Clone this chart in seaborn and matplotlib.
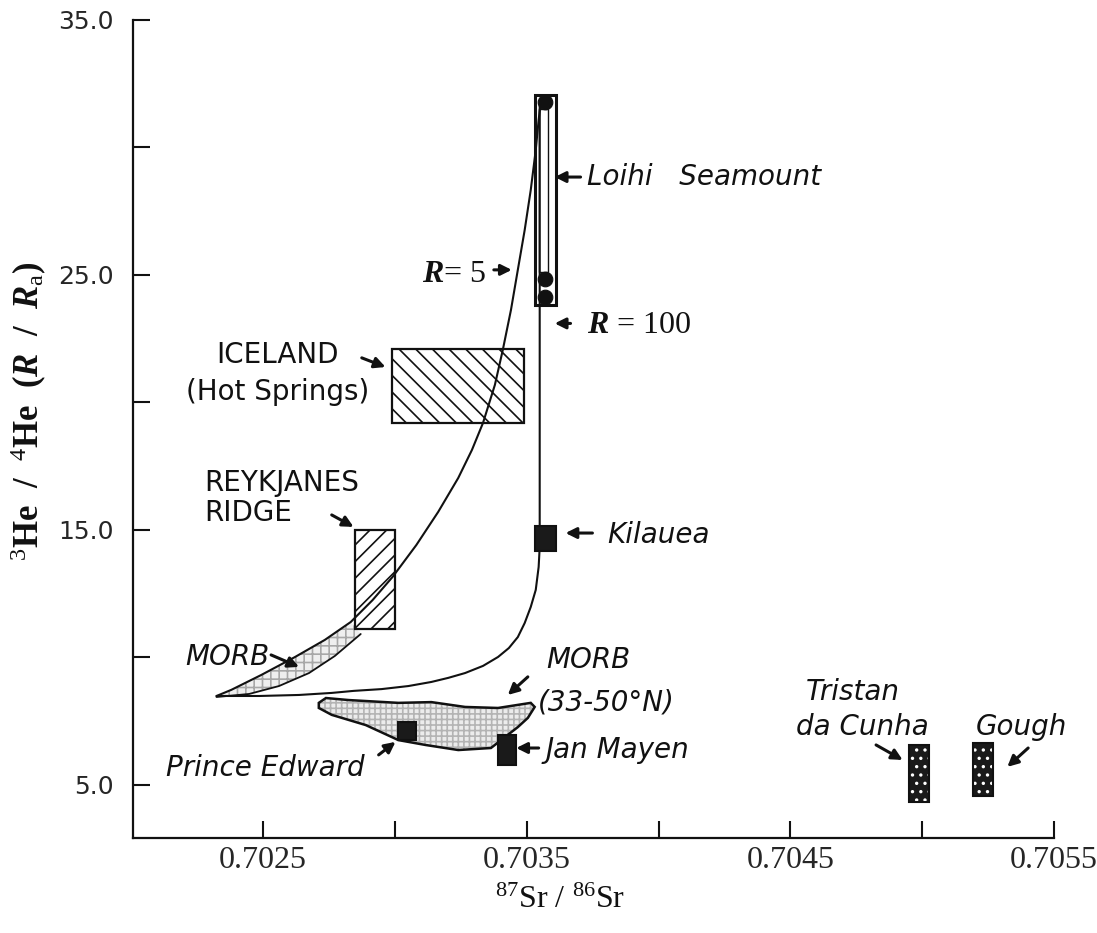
import matplotlib
matplotlib.use("Agg")
import matplotlib.pyplot as plt
from matplotlib.patches import Rectangle, Polygon
import numpy as np
import pandas as pd
import seaborn as sns

# ---- mixing curves (87Sr/86Sr vs 3He/4He in R/Ra) ----
r5_sr = [0.702323, 0.702379, 0.702492, 0.702621, 0.702734, 0.702832, 0.702915,
         0.702991, 0.703081, 0.703164, 0.703240, 0.703292, 0.703334, 0.703379,
         0.703409, 0.703440, 0.703466, 0.703492, 0.703515, 0.703534, 0.703545,
         0.703553]
r5_he = [8.49, 8.73, 9.31, 10.02, 10.69, 11.39, 12.25, 13.16, 14.41, 15.71,
         17.04, 18.14, 19.20, 20.69, 22.06, 23.63, 25.20, 26.76, 28.33, 29.90,
         31.08, 31.78]

r100_sr = [0.703549, 0.703549, 0.703549, 0.703545, 0.703534, 0.703515, 0.703492,
           0.703466, 0.703432, 0.703391, 0.703334, 0.703266, 0.703202, 0.703138,
           0.703051, 0.702949, 0.702843, 0.702760, 0.702636, 0.702485, 0.702323]
r100_he = [31.78, 23.82, 14.33, 13.55, 12.65, 11.98, 11.35, 10.80, 10.37, 10.02,
           9.67, 9.39, 9.20, 9.04, 8.88, 8.76, 8.69, 8.61, 8.53, 8.49, 8.49]

# lower edge of the MORB mixing band
morb_band_sr = [0.702323, 0.702447, 0.702560, 0.702674, 0.702772, 0.702870]
morb_band_he = [8.45, 8.57, 8.88, 9.39, 10.06, 10.92]

# MORB (33-50 N) field outline
morb_n_sr = [0.702711, 0.702738, 0.702825, 0.703013, 0.703138, 0.703266, 0.703391,
             0.703515, 0.703530, 0.703504, 0.703466, 0.703364, 0.703240, 0.703115,
             0.703013, 0.702889, 0.702760, 0.702711]
morb_n_he = [8.22, 8.41, 8.33, 8.22, 8.25, 8.06, 8.02, 8.22, 8.06, 7.63, 7.27,
             6.45, 6.37, 6.57, 6.76, 7.35, 7.75, 8.02]

# fields: [Sr min, Sr max, He min, He max]
iceland_box = [0.70299, 0.70349, 19.2, 22.1]
reykjanes_box = [0.70285, 0.70300, 11.1, 15.0]
loihi_box = [0.70353, 0.70361, 23.82, 32.06]
loihi_inner_box = [0.703545, 0.70358, 25.1, 31.5]
kilauea_box = [0.70353, 0.70361, 14.17, 15.16]
prince_edward_box = [0.70301, 0.70308, 6.76, 7.47]
jan_mayen_box = [0.70339, 0.70346, 5.78, 6.96]
tristan_box = [0.704949, 0.705025, 4.33, 6.57]
gough_box = [0.705194, 0.705270, 4.57, 6.65]

# Loihi samples
loihi_sr = [0.70357, 0.70357, 0.70357]
loihi_he = [31.8, 24.85, 24.15]

# axes
x_ticks = [0.7025, 0.7030, 0.7035, 0.7040, 0.7045, 0.7050, 0.7055]
x_tick_labels = ["0.7025", "", "0.7035", "", "0.7045", "", "0.7055"]
y_ticks = [5, 10, 15, 20, 25, 30, 35]
y_tick_labels = ["5.0", "", "15.0", "", "25.0", "", "35.0"]

sns.set_style("white")
plt.rcParams["hatch.linewidth"] = 1.2
plt.rcParams["mathtext.fontset"] = "custom"
plt.rcParams["mathtext.rm"] = "Liberation Serif"
plt.rcParams["mathtext.it"] = "Liberation Serif:italic:bold"
plt.rcParams["mathtext.bf"] = "Liberation Serif:bold"
plt.rcParams["font.family"] = ["DejaVu Sans"]

fig = plt.figure(figsize=(10.97, 9.33), dpi=100)
ax = fig.add_axes([0.1212, 0.1018, 0.8396, 0.8768])

LW = 1.5
INK = "#111111"


def box(b, **kw):
    return Rectangle((b[0], b[2]), b[1] - b[0], b[3] - b[2], **kw)


# stippled fields
band_x = r5_sr[:6] + morb_band_sr[::-1]
band_y = r5_he[:6] + morb_band_he[::-1]
ax.add_patch(Polygon(np.column_stack([band_x, band_y]), closed=True,
                     facecolor="#efefef", edgecolor="#a8a8a8", lw=0, hatch="++", zorder=1))
sns.lineplot(x=morb_band_sr, y=morb_band_he, sort=False, estimator=None,
             color=INK, lw=1.3, ax=ax, zorder=3)

morb_xy = np.column_stack([morb_n_sr, morb_n_he])
ax.add_patch(Polygon(morb_xy, closed=True, facecolor="#ececec", edgecolor="#b4b4b4",
                     lw=0, hatch="+++", zorder=1))
ax.add_patch(Polygon(morb_xy, closed=True, fill=False, edgecolor=INK, lw=1.8, zorder=2))

# hatched fields
ax.add_patch(box(iceland_box, fill=False, edgecolor=INK, lw=1.6, hatch="\\\\", zorder=2))
ax.add_patch(box(reykjanes_box, fill=False, edgecolor=INK, lw=1.6, hatch="//", zorder=2))

# mixing curves
sns.lineplot(x=r5_sr, y=r5_he, sort=False, estimator=None, color=INK, lw=LW, ax=ax, zorder=3)
sns.lineplot(x=r100_sr, y=r100_he, sort=False, estimator=None, color=INK, lw=LW, ax=ax, zorder=3)

# Loihi
ax.add_patch(box(loihi_box, fill=False, edgecolor=INK, lw=2.2, zorder=4))
ax.add_patch(box(loihi_inner_box, fill=False, edgecolor=INK, lw=1.0, zorder=4))
sns.scatterplot(x=loihi_sr, y=loihi_he, s=110, color=INK, edgecolor=INK, ax=ax, zorder=5)

# dark sample boxes
for b in [kilauea_box, prince_edward_box, jan_mayen_box]:
    ax.add_patch(box(b, facecolor="#1a1a1a", edgecolor=INK, lw=1.5, zorder=5))
for b in [tristan_box, gough_box]:
    ax.add_patch(box(b, facecolor="#1a1a1a", edgecolor="white", lw=0, hatch="..", zorder=5))
    ax.add_patch(box(b, fill=False, edgecolor=INK, lw=1.5, zorder=6))

# labels and pointers
sans = dict(family="DejaVu Sans", fontsize=20, color=INK)
ital = dict(family="DejaVu Sans", fontsize=20, style="italic", color=INK)
serif = dict(family="Liberation Serif", fontsize=23, color=INK)
arrow = dict(arrowstyle="-|>", lw=2.2, color=INK, mutation_scale=16,
             shrinkA=0, shrinkB=0)


def pointer(x0, y0, x1, y1):
    ax.annotate("", xy=(x1, y1), xytext=(x0, y0), arrowprops=arrow, zorder=7)


ax.text(0.70373, 28.84, "Loihi   Seamount", ha="left", va="center", **ital)
pointer(0.703704, 28.84, 0.703606, 28.84)

ax.text(0.703345, 25.0, r"$R$= 5", ha="right", va="center", **serif)
pointer(0.703375, 25.2, 0.703443, 25.2)

ax.text(0.70373, 23.0, r"$R$ = 100", ha="left", va="center", **serif)
pointer(0.703666, 23.1, 0.703606, 23.1)

ax.text(0.702553, 21.86, "ICELAND", ha="center", va="center", **sans)
ax.text(0.702553, 20.41, "(Hot Springs)", ha="center", va="center", **sans)
pointer(0.702874, 21.75, 0.702964, 21.39)

ax.text(0.702277, 16.84, "REYKJANES", ha="left", va="center", **sans)
ax.text(0.702277, 15.67, "RIDGE", ha="left", va="center", **sans)
pointer(0.702760, 15.59, 0.702843, 15.12)

ax.text(0.702364, 10.02, "MORB", ha="center", va="center", **ital)
pointer(0.702530, 10.1, 0.702636, 9.63)

ax.text(0.703572, 9.9, "MORB", ha="left", va="center", **ital)
ax.text(0.703542, 8.22, "(33-50°N)", ha="left", va="center", **ital)
pointer(0.703504, 9.24, 0.703428, 8.53)

ax.text(0.703806, 14.8, "Kilauea", ha="left", va="center", **ital)
pointer(0.703749, 14.88, 0.703647, 14.88)

ax.text(0.702508, 5.67, "Prince Edward", ha="center", va="center", **ital)
pointer(0.702938, 6.18, 0.703002, 6.69)

ax.text(0.703572, 6.37, "Jan Mayen", ha="left", va="center", **ital)
pointer(0.703545, 6.45, 0.703460, 6.45)

ax.text(0.70456, 8.65, "Tristan", ha="left", va="center", **ital)
ax.text(0.704523, 7.27, "da Cunha", ha="left", va="center", **ital)
pointer(0.704825, 6.57, 0.704926, 5.98)

ax.text(0.705202, 7.27, "Gough", ha="left", va="center", **ital)
pointer(0.705402, 6.45, 0.705323, 5.71)

# axes styling
ax.set_xlim(0.702006, 0.7055)
ax.set_ylim(2.92, 35.0)
ax.set_xticks(x_ticks)
ax.set_xticklabels(x_tick_labels, family="Liberation Serif", fontsize=23)
ax.set_yticks(y_ticks)
ax.set_yticklabels(y_tick_labels, family="DejaVu Sans", fontsize=18)
ax.tick_params(axis="both", direction="in", length=12, width=1.5, color=INK,
               bottom=True, left=True)
ax.tick_params(axis="x", pad=6)
ax.tick_params(axis="y", pad=14)
for side in ["top", "right"]:
    ax.spines[side].set_visible(False)
for side in ["left", "bottom"]:
    ax.spines[side].set_linewidth(1.6)
    ax.spines[side].set_color(INK)
ax.set_xlabel("")
ax.set_ylabel("")
ax.patch.set_alpha(0)

fig.text(0.026, 0.5595, r"$^{3}$He  /  $^{4}$He  ($R$  /  $R_{\rm a}$)", rotation=90,
         ha="center", va="center", family="Liberation Serif", fontweight="bold",
         fontsize=25, color=INK)
fig.text(0.5105, 0.0354, r"$^{87}$Sr / $^{86}$Sr", ha="center", va="center",
         family="Liberation Serif", fontsize=23, color=INK)

fig.savefig("out.png", dpi=100, facecolor="white")
